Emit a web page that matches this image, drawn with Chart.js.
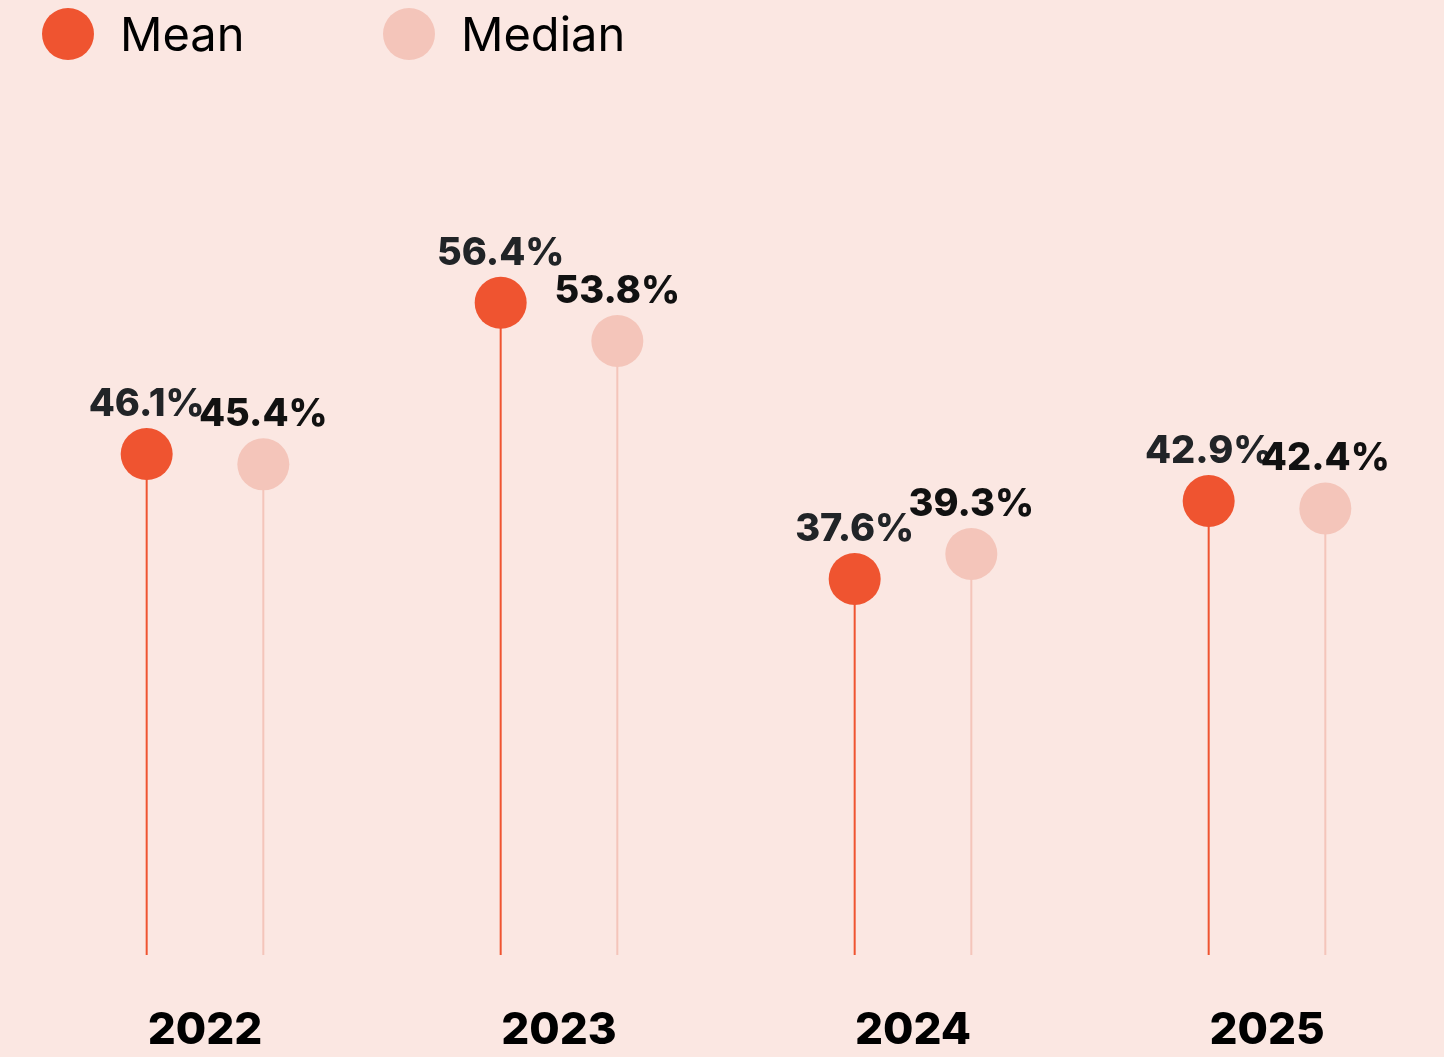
<!DOCTYPE html>
<html>
<head>
<meta charset="utf-8">
<script src="https://cdn.jsdelivr.net/npm/chart.js@4.4.0/dist/chart.umd.min.js"></script>
<style>
  html, body { margin: 0; padding: 0; background: #fbe7e2; }
  .wrap { position: relative; width: 1444px; height: 1057px; overflow: hidden; }
  .legend-item { position: absolute; top: 5px; display: flex; align-items: center;
    font-family: Inter, sans-serif; font-size: 47px; color: #000; }
  .dot { width: 52px; height: 52px; border-radius: 50%; margin-right: 26px; }
  canvas { position: absolute; left: 0; top: 0; }
</style>
</head>
<body>
<div class="wrap">
  <canvas id="chart" width="1444" height="1057"></canvas>
  <div class="legend-item" style="left:42px"><span class="dot" style="background:#ef5430"></span>Mean</div>
  <div class="legend-item" style="left:383px"><span class="dot" style="background:#f4c5ba"></span>Median</div>
</div>
<script>
// data
const years = ['2022', '2023', '2024', '2025'];
const meanValues = [46.1, 56.4, 37.6, 42.9];
const medianValues = [45.4, 53.8, 39.3, 42.4];

const MEAN_COLOR = '#ef5430';
const MEDIAN_COLOR = '#f4c5ba';
const DOT_RADIUS = 26;

// draws the dot + value label on top of each thin bar (the stem)
const lollipopPlugin = {
  id: 'lollipop',
  afterDatasetsDraw(chart) {
    const ctx = chart.ctx;
    chart.data.datasets.forEach((ds, i) => {
      const meta = chart.getDatasetMeta(i);
      meta.data.forEach((bar, j) => {
        ctx.save();
        ctx.beginPath();
        ctx.arc(bar.x, bar.y, DOT_RADIUS, 0, Math.PI * 2);
        ctx.fillStyle = ds.dotColor;
        ctx.fill();
        ctx.font = '800 38px Inter, sans-serif';
        ctx.fillStyle = ds.labelColor;
        ctx.textAlign = 'center';
        ctx.textBaseline = 'alphabetic';
        ctx.fillText(ds.data[j].toFixed(1) + '%', bar.x, bar.y - 38);
        ctx.restore();
      });
    });
  }
};

new Chart(document.getElementById('chart'), {
  type: 'bar',
  data: {
    labels: years,
    datasets: [
      { label: 'Mean', data: meanValues, backgroundColor: MEAN_COLOR,
        dotColor: MEAN_COLOR, labelColor: '#212427' },
      { label: 'Median', data: medianValues, backgroundColor: MEDIAN_COLOR,
        dotColor: MEDIAN_COLOR, labelColor: '#111111' }
    ]
  },
  options: {
    responsive: false,
    animation: false,
    maxBarThickness: 2,
    categoryPercentage: 0.659,
    barPercentage: 1,
    layout: { padding: { top: 103, left: 28, right: -16, bottom: 0 } },
    plugins: { legend: { display: false }, tooltip: { enabled: false } },
    scales: {
      y: { display: false, min: 12, max: 70 },
      x: {
        grid: { display: false, drawTicks: false },
        border: { display: false },
        afterFit(scale) { scale.height = 102; },
        ticks: { color: '#000', padding: 49, font: { family: 'Inter', size: 44, weight: '800' } }
      }
    }
  },
  plugins: [lollipopPlugin]
});
</script>
</body>
</html>
